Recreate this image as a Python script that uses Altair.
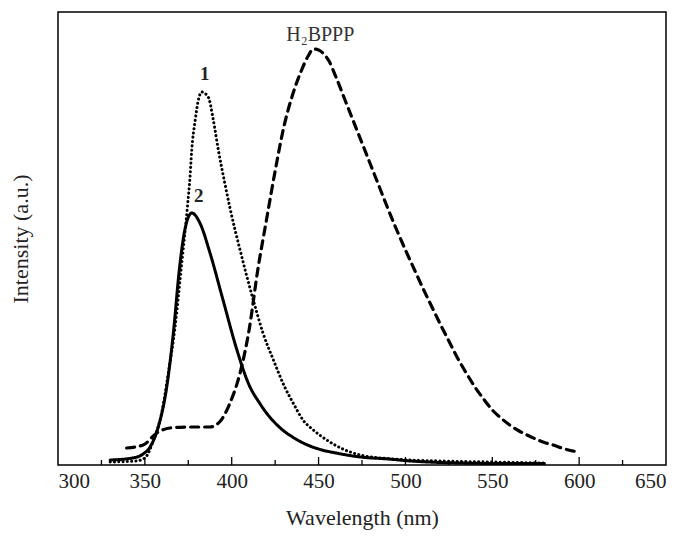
import altair as alt
import pandas as pd

# Curve 2 (solid)
wl_2 = [330, 343, 349, 353, 357.7, 362.6, 366.4, 370, 373, 377, 381.7, 387.5, 395, 403, 410, 416, 420, 425, 430, 435, 440, 445, 452, 460, 474, 490, 503, 531, 555, 580]
int_2 = [5, 7, 11, 18, 38, 78, 132, 198, 235, 252, 242, 212, 165, 115, 80, 62, 52, 42, 34, 28, 23, 19, 15, 12, 8, 6, 4, 2, 1.5, 1.5]

# Curve 1 (dotted)
wl_1 = [330, 345, 350, 355, 359.7, 363.5, 367.4, 371, 374.5, 376, 377, 379, 380.8, 382.7, 386.5, 389.4, 392.3, 396, 399, 404.8, 412.4, 418, 424, 430.5, 436, 441, 447, 454.7, 464, 474, 493, 520, 550, 580]
int_1 = [3, 4, 7, 25, 52, 92, 138, 198, 258, 288, 315, 345, 365, 373, 368, 345, 315, 282, 257, 215, 165, 132, 105, 78, 60, 45, 35, 25, 16, 10, 6, 4, 3, 2]

# H2BPPP (dashed)
wl_h = [339.5, 349, 356.8, 364.5, 376, 387.5, 393, 399, 404.8, 410, 415, 420, 425, 430, 435, 440, 444, 447, 450, 453, 456, 460, 465, 470, 475, 480, 485, 490, 495, 500, 505, 510, 515, 520, 525, 530, 535, 540, 545, 550, 555, 560, 565, 570, 575, 580, 585, 590, 595, 600]
int_h = [17, 20, 32, 37, 38, 38, 43, 62, 92, 135, 195, 245, 294, 338, 370, 394, 409, 416, 415, 411, 404, 388, 366, 344, 322, 300, 278, 256, 235, 215, 196, 177, 159, 141, 124, 107, 92, 78, 66, 55, 47, 40, 34.5, 30, 26, 22.5, 20, 17, 14.5, 13]

bold_labels = ["1", "2"]
bold_wl = [384.5, 381]
bold_int = [381, 259]
name_label = ["H\u2082BPPP"]
name_wl = [451]
name_int = [420]

major_ticks = [350, 400, 450, 500, 550, 600]
minor_ticks = [325, 375, 425, 475, 525, 575, 625]

W, H = 608, 453
FONT = "Liberation Serif"

df = pd.concat([
    pd.DataFrame({"wl": wl_2, "I": int_2, "s": "2"}),
    pd.DataFrame({"wl": wl_1, "I": int_1, "s": "1"}),
    pd.DataFrame({"wl": wl_h, "I": int_h, "s": "H"}),
])

xs = alt.Scale(domain=[300, 650], nice=False, zero=False)
ys = alt.Scale(domain=[0, 453], nice=False, zero=True)

xax = alt.Axis(values=[300, 350, 400, 450, 500, 550, 600, 650], ticks=False, domain=False, grid=False,
               labelFont=FONT, labelFontSize=21, labelColor="#222", labelPadding=5,
               title="Wavelength (nm)", titleFont=FONT, titleFontSize=22, titleFontWeight="normal",
               titleColor="#222", titlePadding=16)
yax = alt.Axis(labels=False, ticks=False, domain=False, grid=False,
               title="Intensity (a.u.)", titleFont=FONT, titleFontSize=22, titleFontWeight="normal",
               titleColor="#222", titlePadding=26)

def curve(s, dash, width):
    return alt.Chart(df[df.s == s]).mark_line(color="black", strokeWidth=width, strokeDash=dash,
                                               interpolate="monotone", strokeCap="round").encode(
        x=alt.X("wl:Q", scale=xs, axis=xax),
        y=alt.Y("I:Q", scale=ys, axis=yax),
    )

c2 = curve("2", [1, 0], 3)
c1 = curve("1", [0.1, 4.2], 3)
ch = curve("H", [8, 6], 3.2)

lab_b = alt.Chart(pd.DataFrame({"t": bold_labels, "wl": bold_wl, "I": bold_int})).mark_text(
    font=FONT, fontSize=19, fontWeight="bold", color="#222", baseline="bottom").encode(
    x=alt.X("wl:Q", scale=xs), y=alt.Y("I:Q", scale=ys), text="t:N")
lab_n = alt.Chart(pd.DataFrame({"t": name_label, "wl": name_wl, "I": name_int})).mark_text(
    font=FONT, fontSize=20, color="#333", baseline="bottom").encode(
    x=alt.X("wl:Q", scale=xs), y=alt.Y("I:Q", scale=ys), text="t:N")

tmaj = alt.Chart(pd.DataFrame({"wl": major_ticks})).mark_rule(color="black", strokeWidth=1.3).encode(
    x=alt.X("wl:Q", scale=xs), y=alt.value(H), y2=alt.value(H - 8))
tmin = alt.Chart(pd.DataFrame({"wl": minor_ticks})).mark_rule(color="black", strokeWidth=1.3).encode(
    x=alt.X("wl:Q", scale=xs), y=alt.value(H), y2=alt.value(H - 5))

chart = alt.layer(ch, c1, c2, lab_b, lab_n, tmaj, tmin).properties(
    width=W, height=H, autosize=alt.AutoSizeParams(type="none"), background="white",
    padding={"left": 50, "top": 4, "right": 8, "bottom": 70}
).configure_view(stroke="black", strokeWidth=1.5)

chart.save("out.html", embed_options={"renderer": "svg", "actions": False})
